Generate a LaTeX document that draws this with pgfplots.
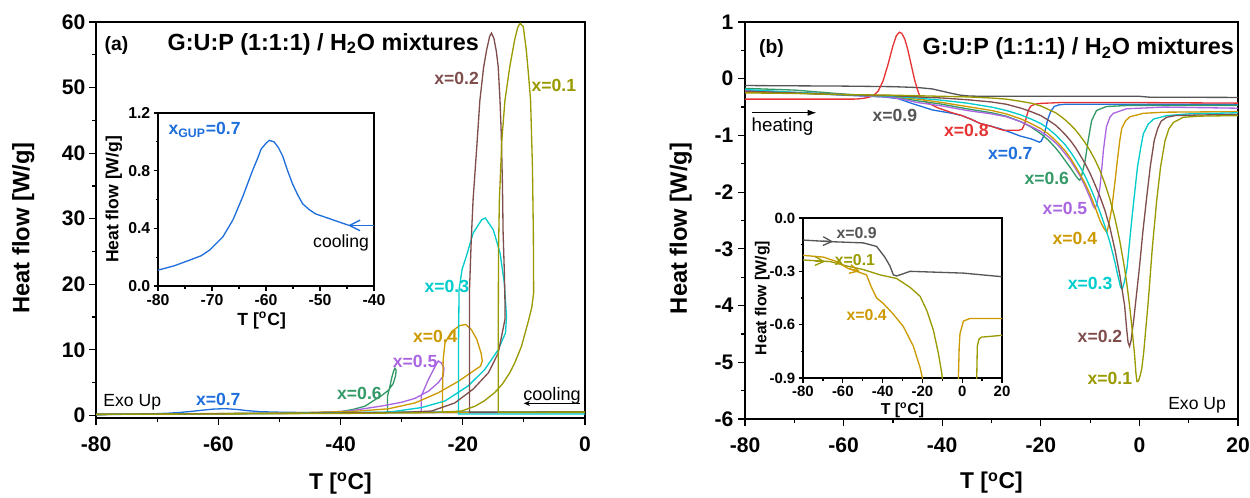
\documentclass[border=0pt]{standalone}
\usepackage{fontspec}
\setmainfont{Liberation Sans}
\usepackage{pgfplots}
\pgfplotsset{compat=1.18}
\usetikzlibrary{arrows.meta}

\definecolor{cA}{RGB}{153,153,0}   % x=0.1
\definecolor{cB}{RGB}{128,77,77}   % x=0.2
\definecolor{cC}{RGB}{0,204,204}   % x=0.3
\definecolor{cD}{RGB}{204,153,0}   % x=0.4
\definecolor{cE}{RGB}{170,102,225} % x=0.5
\definecolor{cF}{RGB}{51,153,102}  % x=0.6
\definecolor{cG}{RGB}{30,110,220}  % x=0.7
\definecolor{cH}{RGB}{230,50,50}   % x=0.8
\definecolor{cI}{RGB}{85,85,85}    % x=0.9

\newcommand{\fs}[1]{\fontsize{#1}{#1}\selectfont}

\pgfplotsset{
  dsc/.style={
    scale only axis,
    /pgf/number format/assume math mode=true,
    axis line style={line width=0.8pt},
    tick align=outside,
    xtick pos=bottom, ytick pos=left,
    every tick/.style={black, line width=0.7pt},
    major tick length=0.14cm, minor tick length=0.08cm,
    minor tick num=1,
    label style={font=\fs{13.5}\bfseries, inner sep=0pt},
    tick label style={font=\fs{12}\bfseries},
    every axis plot/.append style={line width=0.75pt},
  },
  inset/.style={
    dsc,
    axis background/.style={fill=white},
    major tick length=0.09cm, minor tick length=0.05cm,
    label style={font=\fs{10}\bfseries, inner sep=0pt},
    tick label style={font=\fs{9}\bfseries},
    xticklabel style={yshift=0.05cm},
    yticklabel style={/pgf/number format/fixed, /pgf/number format/fixed zerofill, /pgf/number format/precision=1},
  },
}
\tikzset{lab/.style={font=\fs{10}\bfseries}}

\begin{document}
\begin{tikzpicture}
\useasboundingbox (0,0) rectangle (25,-9.96);

% ---------------- panel (a): cooling ----------------
\begin{axis}[dsc,
  at={(1.92cm,-8.36cm)}, anchor=south west,
  width=9.78cm, height=7.92cm,
  xmin=-80, xmax=0, ymin=-0.4, ymax=60,
  xtick={-80,-60,...,0}, ytick={0,10,...,60},
  xticklabel style={yshift=-0.12cm}, yticklabel style={xshift=0.05cm},
  xlabel={T [\textsuperscript{o}C]}, ylabel={Heat flow [W/g]},
  xlabel style={at={(axis description cs:0.5,-0.138)}, anchor=north, font=\fs{13}\bfseries},
  ylabel style={at={(axis description cs:-0.125,0.48)}, anchor=south},
]
% x=0.7
\addplot[cG] coordinates {(-80,0.11) (-74.1,0.18) (-70.4,0.25) (-68,0.34) (-66.1,0.46) (-64.3,0.62) (-62.5,0.8) (-60.9,0.95) (-59.4,1.01) (-58.5,1.0) (-56.9,0.9) (-55.1,0.71) (-53.2,0.57) (-50.8,0.5) (-47.7,0.46) (-44.6,0.42) (-40,0.42) (0,0.45)};
% x=0.6
\addplot[cF] coordinates {(0,0.5) (-32.3,0.5) (-32.3,2.95) (-31.9,4.5) (-31.6,5.8) (-31.3,6.8) (-31.1,7.2) (-30.9,6.9) (-31.0,6.0) (-31.4,4.8) (-32.2,3.8) (-33.3,3.0) (-34.5,2.3) (-36.0,1.4) (-38,0.9) (-39.8,0.6) (-45,0.35) (-80,0.15)};
% x=0.5
\addplot[cE] coordinates {(0,0.45) (-26.8,0.45) (-26.8,2.95) (-25.6,5.5) (-24.5,7.5) (-24.0,8.3) (-23.5,8.0) (-23.07,7.2) (-23.2,6.0) (-24.0,5.0) (-25.6,3.7) (-27.8,2.6) (-30,2.0) (-33.3,1.42) (-38.7,0.66) (-44,0.4) (-60,0.25) (-80,0.15)};
% x=0.4
\addplot[cD] coordinates {(0,0.45) (-23.3,0.45) (-23.3,4) (-23.2,8.5) (-22.9,11.1) (-21.8,12.8) (-20.5,13.7) (-19.5,13.85) (-18.6,13.1) (-17.7,11.6) (-17.0,9.5) (-16.8,8.3) (-17.1,7.5) (-18.3,6.75) (-20.7,5.2) (-24.0,3.45) (-27.8,1.9) (-32.2,1.0) (-38,0.6) (-50,0.35) (-80,0.15)};
% x=0.3
\addplot[cC] coordinates {(0,0.2) (-20.7,0.2) (-20.7,10) (-20.6,19.2) (-20.1,22.3) (-19.4,24.3) (-18.3,27.8) (-16.9,29.85) (-16.3,30.1) (-15.0,28.3) (-13.9,24.8) (-13.2,20.2) (-12.84,15.1) (-13.0,12.6) (-14.2,10.0) (-16.4,7.0) (-19.1,4.5) (-22.9,2.2) (-26.7,1.2) (-32,0.5) (-50,0.3) (-80,0.15)};
% x=0.2
\addplot[cB] coordinates {(0,0.5) (-18.9,0.48) (-18.9,10) (-18.9,19) (-18.6,27) (-18.3,33) (-17.7,41) (-17.2,48) (-16.6,53) (-16.1,55.7) (-15.6,57.8) (-15.3,58.3) (-14.9,57.5) (-14.5,55.5) (-14.2,53.2) (-13.9,48) (-13.7,43) (-13.5,35) (-13.4,28) (-13.2,22) (-13.1,17.7) (-13.1,14.6) (-14.2,9.5) (-15.8,6.5) (-18.3,4.0) (-21.3,1.9) (-25.1,0.66) (-30,0.45) (-50,0.3) (-80,0.15)};
% x=0.1
\addplot[cA] coordinates {(0,0.5) (-14.2,0.48) (-14.2,10) (-14.15,25) (-14.0,33) (-13.6,42) (-13.1,48) (-12.3,53.2) (-11.5,57.3) (-11.0,59.2) (-10.6,59.8) (-10.1,59.3) (-9.6,55.7) (-9.2,51.5) (-8.9,48) (-8.6,38) (-8.45,28) (-8.4,18.7) (-8.7,16.5) (-9.2,14.6) (-10.4,10.5) (-11.5,8.0) (-12.3,6.5) (-13.5,4.8) (-14.8,3.45) (-16.5,2.2) (-18,1.4) (-20.2,0.66) (-25,0.4) (-40,0.3) (-60,0.22) (-80,0.15)};
% cooling arrow
\addplot[black, line width=0.5pt, -{Stealth[length=3.5pt,width=3pt]}] coordinates {(-0.8,1.83) (-10,1.83)};
\node[font=\fs{10.3}] at (axis cs:-5.4,2.94) {cooling};
\node[font=\fs{10}, anchor=west] at (axis cs:-79.8,1.95) {Exo Up};
\node[font=\fs{11}\bfseries, anchor=base west] at (axis cs:-79.6,55.7) {(a)};
\node[font=\fs{13.3}\bfseries, anchor=base] at (axis cs:-42.8,55.7) {G:U:P (1:1:1) / H\textsubscript{2}O mixtures};
\node[lab, text=cB] at (axis cs:-21.0,51.4) {x=0.2};
\node[lab, text=cA] at (axis cs:-5.1,50.3) {x=0.1};
\node[lab, text=cC] at (axis cs:-22.6,19.6) {x=0.3};
\node[lab, text=cD] at (axis cs:-24.5,12.1) {x=0.4};
\node[lab, text=cE] at (axis cs:-27.8,8.3) {x=0.5};
\node[lab, text=cF] at (axis cs:-36.9,3.4) {x=0.6};
\node[lab, text=cG] at (axis cs:-60.0,2.44) {x=0.7};
\end{axis}

% inset (a)
\begin{axis}[inset,
  at={(3.16cm,-5.72cm)}, anchor=south west,
  width=4.32cm, height=3.46cm,
  xmin=-80, xmax=-40, ymin=0, ymax=1.2,
  xtick={-80,-70,...,-40}, ytick={0,0.4,0.8,1.2},
  yticklabel style={xshift=0.06cm},
  xlabel={T [\textsuperscript{o}C]}, ylabel={Heat flow [W/g]},
  xlabel style={at={(axis description cs:0.48,-0.15)}, anchor=north},
  ylabel style={at={(axis description cs:-0.165,0.5)}, anchor=south},
]
\addplot[cG] coordinates {(-80,0.11) (-77,0.14) (-74.1,0.18) (-72,0.21) (-70.4,0.25) (-68,0.34) (-66.1,0.46) (-64.3,0.62) (-62.5,0.8) (-61.5,0.89) (-60.9,0.95) (-60,0.99) (-59.4,1.01) (-58.5,1.0) (-57.7,0.96) (-56.9,0.9) (-56,0.8) (-55.1,0.71) (-54.1,0.63) (-53.2,0.57) (-52,0.53) (-50.8,0.5) (-47.7,0.46) (-44.6,0.42)};
\addplot[cG, -{Straight Barb[length=6pt,width=6pt]}] coordinates {(-40,0.42) (-44.8,0.42)};
\node[font=\fs{10}\bfseries, text=cG, anchor=base west] at (axis cs:-79.2,1.05) {x\textsubscript{GUP}=0.7};
\node[font=\fs{10}] at (axis cs:-46.1,0.30) {cooling};
\end{axis}

% ---------------- panel (b): heating ----------------
\begin{axis}[dsc,
  at={(14.9cm,-8.38cm)}, anchor=south west,
  width=9.86cm, height=7.94cm,
  xmin=-80, xmax=20, ymin=-6, ymax=1,
  xtick={-80,-60,...,20}, ytick={-6,-5,...,1},
  xticklabel style={yshift=-0.12cm}, yticklabel style={xshift=0.03cm},
  xlabel={T [\textsuperscript{o}C]}, ylabel={Heat flow [W/g]},
  xlabel style={at={(axis description cs:0.5,-0.133)}, anchor=north, font=\fs{13}\bfseries},
  ylabel style={at={(axis description cs:-0.107,0.48)}, anchor=south},
]
% x=0.9
\addplot[cI] coordinates {(-80,-0.12) (-70,-0.125) (-60,-0.13) (-50,-0.14) (-45,-0.155) (-42,-0.18) (-40,-0.22) (-38,-0.26) (-36.3,-0.29) (-34.5,-0.305) (-32,-0.31) (-20,-0.31) (0,-0.31) (2,-0.325) (20,-0.33)};
% x=0.7
\addplot[cG] coordinates {(-80,-0.22) (-70,-0.25) (-60,-0.29) (-52,-0.32) (-49,-0.35) (-46,-0.44) (-42,-0.55) (-38,-0.61) (-36,-0.65) (-34,-0.72) (-32.3,-0.79) (-30,-0.84) (-28.3,-0.88) (-26,-0.95) (-24.2,-1.01) (-22,-1.06) (-20.8,-1.10) (-20.3,-1.12) (-19.9,-1.10) (-19.4,-1.01) (-19.0,-0.87) (-18.6,-0.72) (-18.0,-0.58) (-17.3,-0.49) (-16.3,-0.46) (-15,-0.45) (20,-0.45)};
% x=0.8
\addplot[cH] coordinates {(-80,-0.36) (-58,-0.36) (-57,-0.355) (-56,-0.345) (-55,-0.33) (-54,-0.30) (-53,-0.22) (-52,-0.04) (-51,0.25) (-50,0.58) (-49.3,0.76) (-48.7,0.82) (-48.2,0.80) (-47.6,0.70) (-47,0.52) (-46.3,0.25) (-45.6,-0.02) (-45,-0.2) (-44.5,-0.32) (-43,-0.42) (-41,-0.51) (-38,-0.6) (-36,-0.65) (-34,-0.72) (-32.3,-0.79) (-30,-0.84) (-28.3,-0.89) (-27.5,-0.91) (-24.5,-0.91) (-23.8,-0.89) (-23.3,-0.8) (-22.9,-0.67) (-22.5,-0.55) (-22,-0.48) (-21,-0.445) (-20,-0.435) (-16,-0.42) (0,-0.42) (20,-0.43)};
% x=0.6
\addplot[cF] coordinates {(-80,-0.17) (-70,-0.20) (-60,-0.27) (-50,-0.32) (-45,-0.39) (-40,-0.45) (-35,-0.53) (-30,-0.60) (-27,-0.66) (-24,-0.76) (-22,-0.85) (-20,-0.97) (-18.5,-1.08) (-17,-1.22) (-16,-1.33) (-15,-1.45) (-14,-1.57) (-13,-1.70) (-12.4,-1.77) (-12.1,-1.79) (-11.7,-1.7) (-11.0,-1.44) (-10.4,-1.09) (-9.7,-0.74) (-8.7,-0.56) (-6.7,-0.49) (-2,-0.47) (20,-0.47)};
% x=0.5
\addplot[cE] coordinates {(-80,-0.20) (-70,-0.24) (-60,-0.28) (-50,-0.33) (-47,-0.38) (-45,-0.42) (-40,-0.48) (-35,-0.56) (-30,-0.62) (-27,-0.67) (-24,-0.76) (-22,-0.84) (-20,-0.93) (-18.5,-1.02) (-17,-1.13) (-16,-1.22) (-15,-1.33) (-14,-1.44) (-13,-1.58) (-12,-1.72) (-11,-1.90) (-10,-2.1) (-9.4,-2.24) (-9.0,-2.29) (-8.6,-2.2) (-8.0,-1.91) (-7.6,-1.55) (-7.3,-1.26) (-6.7,-0.85) (-6.0,-0.68) (-5.3,-0.61) (-2.6,-0.53) (5,-0.50) (20,-0.52)};
% x=0.4
\addplot[cD] coordinates {(-80,-0.24) (-70,-0.25) (-60,-0.28) (-50,-0.31) (-45,-0.36) (-40,-0.42) (-35,-0.49) (-30,-0.56) (-27,-0.62) (-24,-0.71) (-22,-0.79) (-20,-0.88) (-18.5,-0.97) (-17,-1.09) (-16,-1.18) (-15,-1.28) (-14,-1.40) (-13,-1.54) (-12,-1.69) (-11,-1.85) (-10,-2.04) (-9,-2.26) (-8,-2.50) (-7.2,-2.64) (-6.6,-2.71) (-6.1,-2.52) (-5.6,-2.28) (-5.0,-1.85) (-4.5,-1.46) (-4.0,-1.1) (-3.6,-0.88) (-2.8,-0.74) (-1.9,-0.67) (0.8,-0.61) (5,-0.59) (20,-0.58)};
% x=0.3
\addplot[cC] coordinates {(-80,-0.19) (-70,-0.24) (-60,-0.28) (-50,-0.31) (-45,-0.34) (-40,-0.38) (-35,-0.43) (-30,-0.50) (-27,-0.56) (-24,-0.64) (-22,-0.71) (-20,-0.79) (-18.5,-0.88) (-17,-0.99) (-16,-1.08) (-15,-1.17) (-14,-1.29) (-13,-1.42) (-12,-1.56) (-11,-1.72) (-10,-1.91) (-9,-2.12) (-8,-2.35) (-7,-2.60) (-6,-2.88) (-5,-3.22) (-4.3,-3.50) (-3.8,-3.68) (-3.5,-3.71) (-3.1,-3.6) (-2.5,-3.33) (-1.5,-2.44) (-0.4,-1.56) (0.3,-1.2) (0.8,-0.97) (1.8,-0.8) (2.9,-0.71) (5.6,-0.65) (10,-0.62) (20,-0.60)};
% x=0.2
\addplot[cB] coordinates {(-80,-0.22) (-70,-0.25) (-60,-0.28) (-50,-0.30) (-40,-0.34) (-35,-0.37) (-30,-0.41) (-27,-0.45) (-24,-0.52) (-22,-0.58) (-20,-0.65) (-18.5,-0.73) (-17,-0.82) (-16,-0.90) (-15,-0.99) (-14,-1.09) (-13,-1.21) (-12,-1.35) (-11,-1.50) (-10,-1.67) (-9,-1.87) (-8,-2.08) (-7,-2.32) (-6,-2.62) (-5,-3.0) (-4,-3.45) (-3,-4.0) (-2.6,-4.4) (-2.3,-4.65) (-2.0,-4.72) (-1.7,-4.62) (-1.4,-4.42) (-1.1,-4.21) (0,-3.33) (0.7,-2.7) (1.4,-2.15) (2.2,-1.55) (3.0,-1.09) (3.7,-0.88) (4.4,-0.75) (5.5,-0.68) (7.3,-0.65) (12,-0.64) (20,-0.63)};
% x=0.1
\addplot[cA] coordinates {(-80,-0.25) (-70,-0.26) (-60,-0.28) (-50,-0.29) (-40,-0.31) (-35,-0.32) (-30,-0.34) (-27,-0.36) (-24,-0.40) (-22,-0.43) (-20,-0.48) (-18.5,-0.54) (-17,-0.60) (-16,-0.66) (-15,-0.73) (-14,-0.81) (-13,-0.90) (-12,-1.01) (-11,-1.13) (-10,-1.27) (-9,-1.43) (-8,-1.62) (-7,-1.85) (-6,-2.12) (-5,-2.45) (-4,-2.85) (-3,-3.35) (-2.5,-3.65) (-2,-4.0) (-1.5,-4.4) (-1,-4.85) (-0.7,-5.2) (-0.5,-5.34) (-0.2,-5.33) (0.2,-5.22) (0.5,-5.1) (0.9,-4.8) (1.2,-4.5) (1.8,-3.92) (2.6,-3.0) (3.5,-2.15) (4.3,-1.55) (5.2,-1.09) (6.0,-0.88) (6.9,-0.77) (8.9,-0.68) (12,-0.66) (20,-0.65)};
% heating arrow
\addplot[black, line width=0.6pt, -{Latex[length=5pt,width=3.5pt]}] coordinates {(-78.6,-0.6) (-65.5,-0.6)};
\node[font=\fs{10.7}] at (axis cs:-72.4,-0.85) {heating};
\node[font=\fs{10}, anchor=east] at (axis cs:18.8,-5.75) {Exo Up};
\node[font=\fs{11}\bfseries, anchor=base west] at (axis cs:-78.4,0.45) {(b)};
\node[font=\fs{13.3}\bfseries, anchor=base] at (axis cs:-12.4,0.42) {G:U:P (1:1:1) / H\textsubscript{2}O mixtures};
\node[lab, text=cI] at (axis cs:-49.6,-0.64) {x=0.9};
\node[lab, text=cH] at (axis cs:-35.1,-0.91) {x=0.8};
\node[lab, text=cG] at (axis cs:-26.2,-1.32) {x=0.7};
\node[lab, text=cF] at (axis cs:-18.8,-1.76) {x=0.6};
\node[lab, text=cE] at (axis cs:-15.1,-2.28) {x=0.5};
\node[lab, text=cD] at (axis cs:-13.1,-2.81) {x=0.4};
\node[lab, text=cC] at (axis cs:-10.0,-3.61) {x=0.3};
\node[lab, text=cB] at (axis cs:-8.0,-4.55) {x=0.2};
\node[lab, text=cA] at (axis cs:-6.0,-5.29) {x=0.1};
\end{axis}

% inset (b)
\begin{axis}[inset,
  at={(16.06cm,-7.56cm)}, anchor=south west,
  width=3.98cm, height=3.2cm,
  xmin=-80, xmax=20, ymin=-0.9, ymax=0,
  xtick={-80,-60,...,20}, ytick={-0.9,-0.6,-0.3,0},
  tick label style={font=\fs{8.5}\bfseries},
  label style={font=\fs{9}\bfseries},
  yticklabel style={xshift=0.06cm},
  xlabel={T [\textsuperscript{o}C]}, ylabel={Heat flow [W/g]},
  xlabel style={at={(axis description cs:0.5,-0.15)}, anchor=north},
  ylabel style={at={(axis description cs:-0.165,0.5)}, anchor=south},
]
\addplot[cI] coordinates {(-80,-0.124) (-66.4,-0.133) (-49.7,-0.14) (-43,-0.16) (-38.9,-0.22) (-36.3,-0.27) (-34.6,-0.32) (-32.9,-0.326) (-30,-0.315) (-26.2,-0.30) (0.6,-0.31) (19.8,-0.33)};
\addplot[cA] coordinates {(-80,-0.236) (-66.4,-0.245) (-58,-0.27) (-49.7,-0.29) (-41.3,-0.32) (-33,-0.34) (-26.2,-0.39) (-21.2,-0.44) (-17.8,-0.52) (-14.5,-0.63) (-12,-0.76) (-10.3,-0.87) (-9.6,-0.95) (0,-2.0) (7.2,-0.95) (7.3,-0.9) (7.6,-0.72) (8.5,-0.68) (9.8,-0.67) (20,-0.66)};
\addplot[cD] coordinates {(-80,-0.21) (-69.8,-0.22) (-63.1,-0.245) (-58,-0.28) (-53.1,-0.30) (-48.1,-0.32) (-45.6,-0.39) (-43,-0.45) (-39.7,-0.48) (-34.7,-0.54) (-29.6,-0.61) (-24.6,-0.72) (-21.2,-0.84) (-20,-0.9) (-19.5,-0.95) (-10,-2.0) (-2.0,-0.95) (-1.9,-0.9) (-1.5,-0.72) (-1.1,-0.65) (0.6,-0.58) (3.9,-0.565) (20,-0.565)};
\addplot[cI, -{Straight Barb[length=5pt,width=5pt]}] coordinates {(-70,-0.13) (-64.8,-0.133)};
\addplot[cA, -{Straight Barb[length=5pt,width=5pt]}] coordinates {(-74,-0.242) (-68.8,-0.245)};
\addplot[cD, -{Straight Barb[length=5pt,width=5pt]}] coordinates {(-57,-0.285) (-51.4,-0.30)};
\node[font=\fs{9}\bfseries, text=cI] at (axis cs:-53.1,-0.086) {x=0.9};
\node[font=\fs{9}\bfseries, text=cA] at (axis cs:-53.9,-0.236) {x=0.1};
\node[font=\fs{9}\bfseries, text=cD] at (axis cs:-48.0,-0.546) {x=0.4};
\end{axis}
\end{tikzpicture}
\end{document}
